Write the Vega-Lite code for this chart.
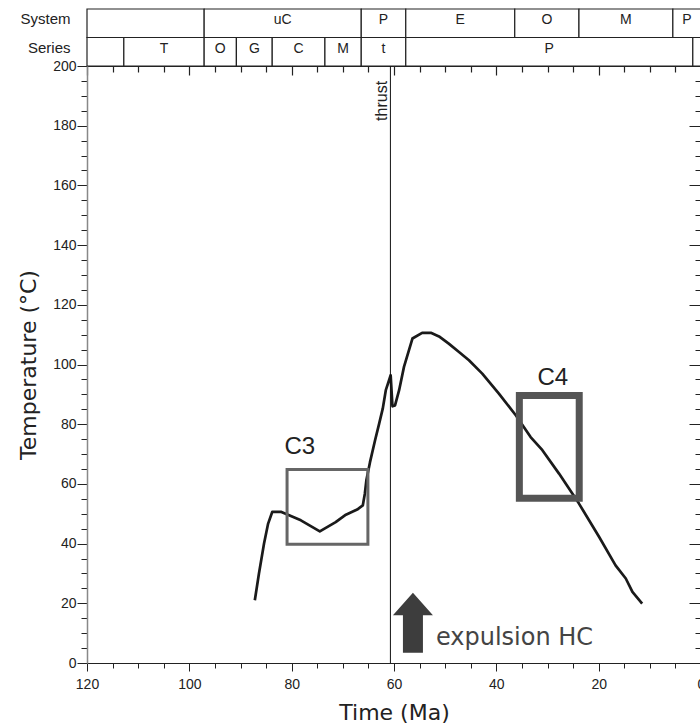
{
  "$schema": "https://vega.github.io/schema/vega-lite/v6.json",
  "background": "white",
  "padding": {"left": 17, "top": 8, "right": 0, "bottom": 0},
  "spacing": 0,
  "bounds": "flush",
  "config": {"view": {"stroke": null}, "axis": {"grid": false}},
  "vconcat": [
    {
      "width": 614,
      "height": 57,
      "data": {"values": [
        {"row": "System", "start": 120, "end": 97.1, "label": ""},
        {"row": "System", "start": 97.1, "end": 66.4, "label": "uC"},
        {"row": "System", "start": 66.4, "end": 57.7, "label": "P"},
        {"row": "System", "start": 57.7, "end": 36.4, "label": "E"},
        {"row": "System", "start": 36.4, "end": 23.85, "label": "O"},
        {"row": "System", "start": 23.85, "end": 5.5, "label": "M"},
        {"row": "System", "start": 5.5, "end": 0, "label": "P"},
        {"row": "Series", "start": 120, "end": 112.8, "label": ""},
        {"row": "Series", "start": 112.8, "end": 97.1, "label": "T"},
        {"row": "Series", "start": 97.1, "end": 90.8, "label": "O"},
        {"row": "Series", "start": 90.8, "end": 83.8, "label": "G"},
        {"row": "Series", "start": 83.8, "end": 73.5, "label": "C"},
        {"row": "Series", "start": 73.5, "end": 66.4, "label": "M"},
        {"row": "Series", "start": 66.4, "end": 57.7, "label": "t"},
        {"row": "Series", "start": 57.7, "end": 1.6, "label": "P"},
        {"row": "Series", "start": 1.6, "end": 0, "label": ""}
      ]},
      "transform": [{"calculate": "(datum.start + datum.end) / 2", "as": "mid"}],
      "layer": [
        {
          "mark": {"type": "rect", "fill": "white", "stroke": "#222", "strokeWidth": 1.2},
          "encoding": {
            "x": {"field": "start", "type": "quantitative", "scale": {"domain": [0, 120], "reverse": true, "nice": false, "zero": false}, "axis": null},
            "x2": {"field": "end"},
            "y": {"field": "row", "type": "nominal", "scale": {"domain": ["System", "Series"], "paddingInner": 0, "paddingOuter": 0},
                  "axis": {"title": null, "ticks": false, "domain": false, "labelFont": "Liberation Sans", "labelFontSize": 15, "labelColor": "#222", "labelPadding": 17, "labelOffset": -4}}
          }
        },
        {
          "mark": {"type": "text", "font": "Liberation Sans", "fontSize": 14, "color": "#222", "baseline": "middle", "dy": -3},
          "encoding": {
            "x": {"field": "mid", "type": "quantitative", "scale": {"domain": [0, 120], "reverse": true, "nice": false, "zero": false}, "axis": null},
            "y": {"field": "row", "type": "nominal", "scale": {"domain": ["System", "Series"], "paddingInner": 0, "paddingOuter": 0}},
            "text": {"field": "label"}
          }
        }
      ]
    },
    {
      "width": 614,
      "height": 597,
      "resolve": {"axis": {"x": "independent", "y": "independent"}},
      "layer": [
        {
          "data": {"values": [
            {"ma": 87.2, "temp": 21.0}, {"ma": 86.4, "temp": 29.9}, {"ma": 85.4, "temp": 40.0},
            {"ma": 84.6, "temp": 46.7}, {"ma": 83.8, "temp": 50.6}, {"ma": 82.0, "temp": 50.6},
            {"ma": 80.5, "temp": 49.5}, {"ma": 78.2, "temp": 47.8}, {"ma": 74.5, "temp": 44.1},
            {"ma": 71.4, "temp": 47.2}, {"ma": 69.4, "temp": 49.7}, {"ma": 67.2, "temp": 51.4},
            {"ma": 66.1, "temp": 52.8}, {"ma": 65.7, "temp": 56.7}, {"ma": 65.4, "temp": 61.2},
            {"ma": 64.7, "temp": 67.2}, {"ma": 63.7, "temp": 74.6}, {"ma": 62.9, "temp": 80.2},
            {"ma": 62.2, "temp": 85.2}, {"ma": 61.6, "temp": 91.4}, {"ma": 60.65, "temp": 96.4},
            {"ma": 60.3, "temp": 86.0}, {"ma": 59.8, "temp": 86.3}, {"ma": 59.0, "temp": 91.4},
            {"ma": 58.05, "temp": 99.2}, {"ma": 56.4, "temp": 108.7}, {"ma": 54.5, "temp": 110.6},
            {"ma": 52.8, "temp": 110.6}, {"ma": 51.2, "temp": 109.4}, {"ma": 49.3, "temp": 107.0},
            {"ma": 47.3, "temp": 104.2}, {"ma": 45.35, "temp": 101.4}, {"ma": 42.75, "temp": 96.95},
            {"ma": 39.5, "temp": 90.25}, {"ma": 36.2, "temp": 83.0}, {"ma": 33.3, "temp": 75.7},
            {"ma": 31.0, "temp": 71.3}, {"ma": 27.75, "temp": 63.45}, {"ma": 23.85, "temp": 53.4},
            {"ma": 19.9, "temp": 42.2}, {"ma": 16.7, "temp": 32.7}, {"ma": 14.7, "temp": 28.3},
            {"ma": 13.4, "temp": 23.8}, {"ma": 11.5, "temp": 19.9}
          ]},
          "mark": {"type": "line", "color": "#1a1a1a", "strokeWidth": 2.7, "strokeJoin": "round"},
          "encoding": {
            "x": {"field": "ma", "type": "quantitative", "scale": {"domain": [0, 120], "reverse": true, "nice": false, "zero": false},
                  "axis": {"orient": "bottom", "title": "Time (Ma)",
                           "values": [0, 5, 10, 15, 20, 25, 30, 35, 40, 45, 50, 55, 60, 65, 70, 75, 80, 85, 90, 95, 100, 105, 110, 115, 120],
                           "labelExpr": "datum.value % 20 === 0 ? datum.label : ''",
                           "tickSize": {"condition": {"test": "datum.value % 20 === 0", "value": 8}, "value": 5},
                           "labelFlush": false, "labelOverlap": false, "labelBound": false,
                           "labelFont": "Liberation Sans", "labelFontSize": 14, "labelColor": "#222", "labelPadding": 6,
                           "titleFont": "DejaVu Sans", "titleFontSize": 22, "titleFontWeight": "normal", "titleColor": "#222", "titlePadding": 11,
                           "domainColor": "#222", "tickColor": "#222", "domainWidth": 1.2}},
            "y": {"field": "temp", "type": "quantitative", "scale": {"domain": [0, 200], "nice": false, "zero": false},
                  "axis": {"orient": "left", "title": "Temperature (°C)",
                           "values": [0, 5, 10, 15, 20, 25, 30, 35, 40, 45, 50, 55, 60, 65, 70, 75, 80, 85, 90, 95, 100, 105, 110, 115, 120, 125, 130, 135, 140, 145, 150, 155, 160, 165, 170, 175, 180, 185, 190, 195, 200],
                           "labelExpr": "datum.value % 20 === 0 ? datum.label : ''",
                           "tickSize": {"condition": {"test": "datum.value % 20 === 0", "value": 10}, "value": 6},
                           "labelFlush": false, "labelOverlap": false, "labelBound": false,
                           "labelFont": "Liberation Sans", "labelFontSize": 14, "labelColor": "#222", "labelPadding": 1,
                           "titleFont": "DejaVu Sans", "titleFontSize": 22, "titleFontWeight": "normal", "titleColor": "#222", "titlePadding": 12,
                           "domainColor": "#888", "tickColor": "#222", "domainWidth": 1.5}}
          }
        },
        {
          "data": {"values": [{"x1": 80.9, "x2": 65.1, "y1": 39.8, "y2": 64.8}]},
          "mark": {"type": "rect", "fill": null, "fillOpacity": 0, "stroke": "#666", "strokeWidth": 3},
          "encoding": {
            "x": {"field": "x1", "type": "quantitative", "scale": {"domain": [0, 120], "reverse": true, "nice": false, "zero": false},
                  "axis": {"orient": "top", "title": null, "labels": false,
                           "values": [0, 5, 10, 15, 20, 25, 30, 35, 40, 45, 50, 55, 60, 65, 70, 75, 80, 85, 90, 95, 100, 105, 110, 115, 120],
                           "tickSize": {"condition": {"test": "datum.value % 20 === 0", "value": -9}, "value": -6},
                           "domainColor": "#222", "tickColor": "#222", "tickWidth": 1.2, "domainWidth": 1.2}},
            "x2": {"field": "x2"},
            "y": {"field": "y1", "type": "quantitative", "scale": {"domain": [0, 200], "nice": false, "zero": false},
                  "axis": {"orient": "right", "title": null, "labels": false,
                           "values": [0, 5, 10, 15, 20, 25, 30, 35, 40, 45, 50, 55, 60, 65, 70, 75, 80, 85, 90, 95, 100, 105, 110, 115, 120, 125, 130, 135, 140, 145, 150, 155, 160, 165, 170, 175, 180, 185, 190, 195, 200],
                           "tickSize": {"condition": {"test": "datum.value % 20 === 0", "value": -12}, "value": -6},
                           "domainColor": "#222", "tickColor": "#222", "domainWidth": 1.2}},
            "y2": {"field": "y2"}
          }
        },
        {
          "data": {"values": [{"x1": 35.5, "x2": 23.8, "y1": 55.2, "y2": 89.6}]},
          "mark": {"type": "rect", "fill": null, "fillOpacity": 0, "stroke": "#555", "strokeWidth": 7},
          "encoding": {
            "x": {"field": "x1", "type": "quantitative", "scale": {"domain": [0, 120], "reverse": true, "nice": false, "zero": false}, "axis": null},
            "x2": {"field": "x2"},
            "y": {"field": "y1", "type": "quantitative", "scale": {"domain": [0, 200], "nice": false, "zero": false}, "axis": null},
            "y2": {"field": "y2"}
          }
        },
        {
          "data": {"values": [{"ma": 60.7}]},
          "mark": {"type": "rule", "color": "#111", "strokeWidth": 1},
          "encoding": {
            "x": {"field": "ma", "type": "quantitative", "scale": {"domain": [0, 120], "reverse": true, "nice": false, "zero": false}, "axis": null}
          }
        },
        {
          "data": {"values": [{"ma": 78.4, "temp": 72.5, "label": "C3"}, {"ma": 28.95, "temp": 95.4, "label": "C4"}]},
          "mark": {"type": "text", "font": "Liberation Sans", "fontSize": 24, "color": "#222", "baseline": "middle", "align": "center"},
          "encoding": {
            "x": {"field": "ma", "type": "quantitative", "scale": {"domain": [0, 120], "reverse": true, "nice": false, "zero": false}, "axis": null},
            "y": {"field": "temp", "type": "quantitative", "scale": {"domain": [0, 200], "nice": false, "zero": false}, "axis": null},
            "text": {"field": "label"}
          }
        },
        {
          "data": {"values": [{"ma": 62.35, "temp": 188.3, "label": "thrust"}]},
          "mark": {"type": "text", "font": "Liberation Sans", "fontSize": 16, "color": "#222", "baseline": "middle", "align": "center", "angle": 270},
          "encoding": {
            "x": {"field": "ma", "type": "quantitative", "scale": {"domain": [0, 120], "reverse": true, "nice": false, "zero": false}, "axis": null},
            "y": {"field": "temp", "type": "quantitative", "scale": {"domain": [0, 200], "nice": false, "zero": false}, "axis": null},
            "text": {"field": "label"}
          }
        },
        {
          "data": {"values": [{"ma": 56.3, "temp": 13.5}]},
          "mark": {"type": "point", "shape": "M0,-1.5L1,-0.375L0.5,-0.375L0.5,1.5L-0.5,1.5L-0.5,-0.375L-1,-0.375Z", "size": 1600, "filled": true, "color": "#3d3d3d", "opacity": 1, "strokeWidth": 0},
          "encoding": {
            "x": {"field": "ma", "type": "quantitative", "scale": {"domain": [0, 120], "reverse": true, "nice": false, "zero": false}, "axis": null},
            "y": {"field": "temp", "type": "quantitative", "scale": {"domain": [0, 200], "nice": false, "zero": false}, "axis": null}
          }
        },
        {
          "data": {"values": [{"ma": 51.8, "temp": 5.9, "label": "expulsion HC"}]},
          "mark": {"type": "text", "font": "DejaVu Sans", "fontSize": 24, "color": "#444", "baseline": "alphabetic", "align": "left"},
          "encoding": {
            "x": {"field": "ma", "type": "quantitative", "scale": {"domain": [0, 120], "reverse": true, "nice": false, "zero": false}, "axis": null},
            "y": {"field": "temp", "type": "quantitative", "scale": {"domain": [0, 200], "nice": false, "zero": false}, "axis": null},
            "text": {"field": "label"}
          }
        }
      ]
    }
  ]
}
